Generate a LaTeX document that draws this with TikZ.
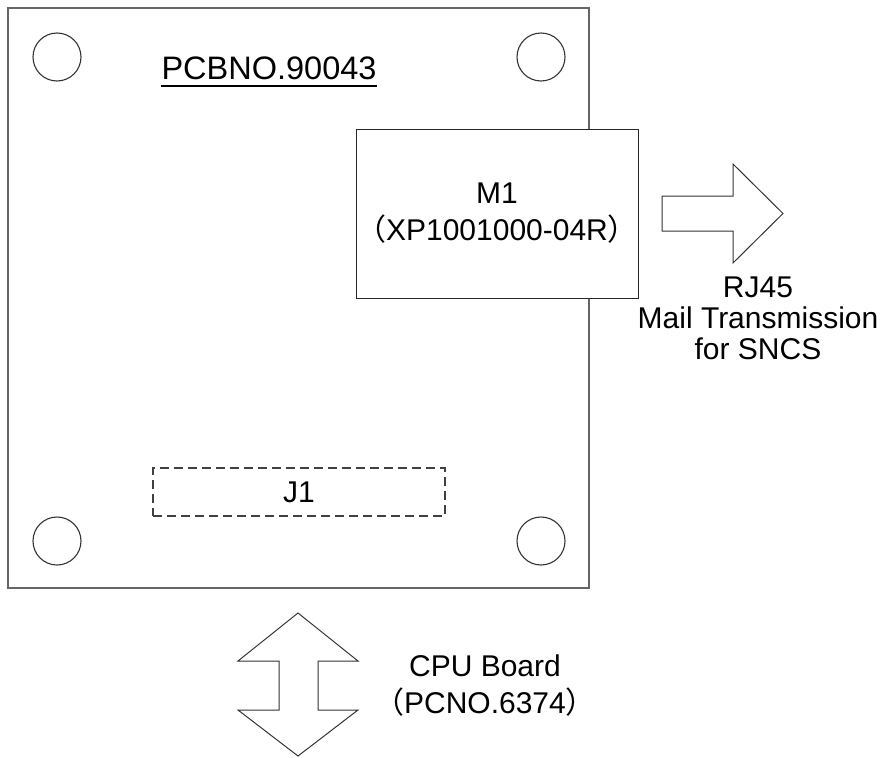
\documentclass[tikz,border=0pt]{standalone}
\usepackage{fontspec}
\setmainfont{Liberation Sans}
\newfontfamily\cjk{Noto Sans CJK SC}
\usetikzlibrary{positioning}
\tikzset{
  board/.style={draw=black!60, line width=2pt, inner sep=0pt},
  hole/.style={draw=black!80, line width=1.1pt, circle, minimum size=48pt, inner sep=0pt},
  module/.style={draw=black!85, fill=white, line width=1pt, inner sep=0pt, align=center},
  conn/.style={draw=black!75, line width=1.1pt, dash pattern=on 9pt off 5pt, inner sep=0pt},
  txt/.style={inner sep=0pt, align=center, font=\fontsize{30}{37}\selectfont},
  blockarrow/.style={draw=black!80, line width=1pt, line join=miter}
}
\begin{document}
\begin{tikzpicture}[x=1pt, y=-1pt]
  \useasboundingbox (0,0) rectangle (887,758);
  % Board outline
  \node[board, minimum width=581pt, minimum height=580pt] (pcb) at (298.5,298) {};
  \node[txt, font=\fontsize{32.5}{37}\selectfont, anchor=base] (title) at (269,79) {PCBNO.90043};
  \draw[line width=2.6pt] ([yshift=-7pt]title.base west) -- ([yshift=-7pt]title.base east);

  % Mounting holes
  \node[hole] (hole1) at (57,57) {};
  \node[hole] (hole2) at (541,57) {};
  \node[hole] (hole3) at (57,541) {};
  \node[hole] (hole4) at (541,541) {};

  % Module and connector
  \node[module, minimum width=282pt, minimum height=169pt, txt] (m1) at (497,213.5)
    {M1\\{\cjk （}XP1001000-04R{\cjk ）}};
  \node[conn, minimum width=292pt, minimum height=48pt, txt] (j1) at (299,492) {J1};

  % Ethernet output
  \draw[blockarrow] (662,196) -- (733,196) -- (733,164) -- (783,213.5)
    -- (733,263) -- (733,231) -- (662,231) -- cycle;
  \node[txt, font=\fontsize{30}{31}\selectfont] (rj45) at (758,318)
    {RJ45\\Mail Transmission\\for SNCS};

  % CPU board link
  \draw[blockarrow] (298,613) -- (358,661) -- (318,661) -- (318,710) -- (358,710)
    -- (298,756) -- (238,710) -- (279,710) -- (279,661) -- (238,661) -- cycle;
  \node[txt] (cpu) at (485,686) {CPU Board\\{\cjk （}PCNO.6374{\cjk ）}};
\end{tikzpicture}
\end{document}
